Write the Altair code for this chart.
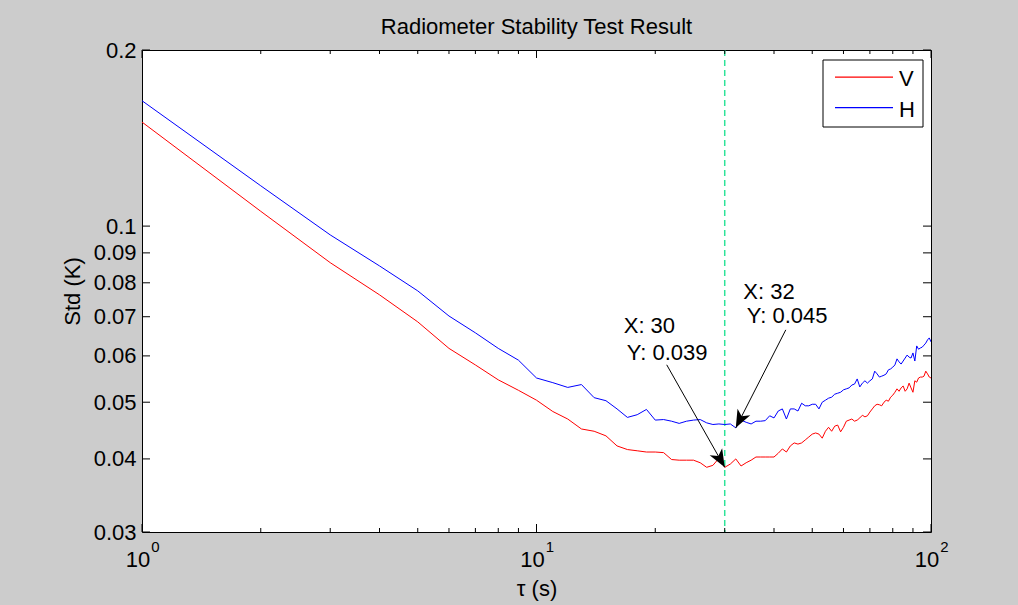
import math

import altair as alt
import pandas as pd

# Averaging time tau (s)
tau = list(range(1, 101))

# Allan-type standard deviation (K) of the V channel, one value per tau
std_v = [
    0.1506, 0.1060, 0.0866, 0.0763, 0.0686, 0.0618, 0.0579, 0.0546, 0.0524, 0.0504,
    0.0482, 0.0468, 0.0450, 0.0446, 0.0438, 0.0421, 0.0415, 0.0413, 0.0411, 0.0411,
    0.0410, 0.0399, 0.0398, 0.0398, 0.0398, 0.0394, 0.0387, 0.0390, 0.0401, 0.0387,
    0.0392, 0.0400, 0.0389, 0.0394, 0.0398, 0.0403, 0.0403, 0.0403, 0.0403, 0.0403,
    0.0409, 0.0416, 0.0411, 0.0421, 0.0426, 0.0424, 0.0426, 0.0431, 0.0436, 0.0441,
    0.0443, 0.0441, 0.0434, 0.0446, 0.0453, 0.0446, 0.0455, 0.0457, 0.0445, 0.0453,
    0.0464, 0.0466, 0.0468, 0.0464, 0.0466, 0.0470, 0.0475, 0.0472, 0.0474, 0.0481,
    0.0487, 0.0493, 0.0496, 0.0495, 0.0493, 0.0500, 0.0504, 0.0502, 0.0510, 0.0514,
    0.0520, 0.0527, 0.0522, 0.0529, 0.0533, 0.0522, 0.0527, 0.0539, 0.0529, 0.0520,
    0.0544, 0.0541, 0.0550, 0.0552, 0.0552, 0.0554, 0.0565, 0.0559, 0.0552, 0.0550,
]

# Same quantity for the H channel
std_h = [
    0.1638, 0.1172, 0.0966, 0.0855, 0.0775, 0.0702, 0.0657, 0.0618, 0.0590, 0.0550,
    0.0540, 0.0530, 0.0536, 0.0509, 0.0503, 0.0487, 0.0471, 0.0476, 0.0486, 0.0466,
    0.0467, 0.0464, 0.0460, 0.0464, 0.0466, 0.0467, 0.0461, 0.0458, 0.0459, 0.0458,
    0.0459, 0.0452, 0.0466, 0.0462, 0.0459, 0.0464, 0.0464, 0.0465, 0.0474, 0.0470,
    0.0483, 0.0487, 0.0468, 0.0487, 0.0487, 0.0483, 0.0498, 0.0493, 0.0493, 0.0496,
    0.0496, 0.0487, 0.0500, 0.0504, 0.0508, 0.0510, 0.0516, 0.0518, 0.0520, 0.0525,
    0.0527, 0.0529, 0.0535, 0.0537, 0.0548, 0.0531, 0.0539, 0.0544, 0.0539, 0.0544,
    0.0548, 0.0565, 0.0559, 0.0552, 0.0554, 0.0556, 0.0559, 0.0568, 0.0570, 0.0574,
    0.0579, 0.0593, 0.0586, 0.0581, 0.0588, 0.0595, 0.0602, 0.0597, 0.0595, 0.0607,
    0.0588, 0.0624, 0.0616, 0.0619, 0.0621, 0.0626, 0.0631, 0.0639, 0.0644, 0.0634,
]

series_names = ["V", "H"]
series_colors = ["#ff0000", "#0000ff"]

y_tick_values = [0.03, 0.04, 0.05, 0.06, 0.07, 0.08, 0.09, 0.1, 0.2]
x_major_ticks = [1, 10, 100]
x_minor_ticks = [2, 3, 4, 5, 6, 7, 8, 9, 20, 30, 40, 50, 60, 70, 80, 90]

# Vertical marker at the chosen averaging time
marker_tau = [30]

# Data tips: which series and which tau they point at
tip_series = ["V", "H"]
tip_tau = [30, 32]

chart_title = "Radiometer Stability Test Result"

# ---- layout / style ----
FONT = "Liberation Sans"
FS = 22
W, H = 789, 482
MAJOR_LEN, MINOR_LEN = 8, 4

# legend box (plot-area pixels): left, top, width, height, first row, row pitch,
# sample line span and label position
LEG = {"x": 681, "y": 10, "w": 100, "h": 67, "row0": 17.2, "pitch": 30.4,
       "line": (693, 751), "label_x": 757}

# pixel offsets of each data tip (arrow tail, text lines) relative to its point
tip_style = [
    {"tail": (-58, -102.5), "x_line": (-101, -134.5), "y_line": (-98, -107.5)},
    {"tail": (50, -98), "x_line": (7.5, -129), "y_line": (11, -104.7)},
]

x_scale = alt.Scale(type="log", domain=[1, 100], nice=False)
y_scale = alt.Scale(type="log", domain=[0.03, 0.2], nice=False)

# One axis definition per direction, shared by every layer so they merge cleanly
x_axis = alt.Axis(
    labels=False, ticks=False, tickSize=0, domain=False, grid=False,
    title="τ (s)", titleX=W / 2, titleY=63, titleAlign="center",
    titleBaseline="alphabetic", titleFont=FONT, titleFontSize=FS,
    titleFontWeight="normal", titleColor="black",
)
y_axis = alt.Axis(
    values=y_tick_values, format=".2~f", labelFont=FONT,
    labelFontSize=FS, labelColor="black", labelPadding=6,
    labelOverlap=False, ticks=False, tickSize=0, domain=False,
    grid=False, title="Std (K)", titleX=-70, titleY=H / 2,
    titleAngle=270, titleAlign="center", titleBaseline="middle",
    titleFont=FONT, titleFontSize=FS, titleFontWeight="normal",
    titleColor="black",
)

df = pd.DataFrame(
    {
        "tau": tau * 2,
        "std": std_v + std_h,
        "series": ["V"] * len(tau) + ["H"] * len(tau),
    }
)
series_values = {"V": std_v, "H": std_h}


def xq(field):
    return alt.X(field, type="quantitative", scale=x_scale, axis=x_axis)


def yq(field):
    return alt.Y(field, type="quantitative", scale=y_scale, axis=y_axis)


lines = (
    alt.Chart(df)
    .mark_line(strokeWidth=1, clip=True)
    .encode(
        x=xq("tau"),
        y=yq("std"),
        color=alt.Color(
            "series:N",
            scale=alt.Scale(domain=series_names, range=series_colors),
            sort=series_names,
            legend=None,
        ),
    )
)

# Inward tick marks on all four sides (box on)
ydf = pd.DataFrame({"v": y_tick_values})
y_ticks_left = alt.Chart(ydf).mark_rule(color="black", strokeWidth=1).encode(
    y=yq("v"), x=alt.value(0), x2=alt.value(MAJOR_LEN)
)
y_ticks_right = alt.Chart(ydf).mark_rule(color="black", strokeWidth=1).encode(
    y=yq("v"), x=alt.value(W - MAJOR_LEN), x2=alt.value(W)
)

xmaj = pd.DataFrame({"v": x_major_ticks})
xmin = pd.DataFrame({"v": x_minor_ticks})
x_tick_layers = []
for data, length in ((xmaj, MAJOR_LEN), (xmin, MINOR_LEN)):
    x_tick_layers.append(
        alt.Chart(data).mark_rule(color="black", strokeWidth=1).encode(
            x=xq("v"), y=alt.value(H), y2=alt.value(H - length)
        )
    )
    x_tick_layers.append(
        alt.Chart(data).mark_rule(color="black", strokeWidth=1).encode(
            x=xq("v"), y=alt.value(0), y2=alt.value(length)
        )
    )

# Decade labels written as 10 with a raised exponent
dec_df = pd.DataFrame(
    {
        "v": x_major_ticks,
        "base": ["10"] * len(x_major_ticks),
        "exp": [str(int(round(math.log10(v)))) for v in x_major_ticks],
    }
)
dec_base = alt.Chart(dec_df).mark_text(
    font=FONT, fontSize=FS, color="black", align="center",
    baseline="alphabetic", dx=-4,
).encode(x=xq("v"), y=alt.value(H + 35), text="base:N")
dec_exp = alt.Chart(dec_df).mark_text(
    font=FONT, fontSize=15, color="black", align="center",
    baseline="alphabetic", dx=13.5,
).encode(x=xq("v"), y=alt.value(H + 19.5), text="exp:N")

marker = alt.Chart(pd.DataFrame({"v": marker_tau})).mark_rule(
    color="#2fe39a", strokeWidth=1.5, strokeDash=[6, 4]
).encode(x=xq("v"))

# Data tips: arrow, arrowhead and two text lines
ARROW_HEAD = "M0,0 L0.8,2 L0,1.45 L-0.8,2 Z"
tip_layers = []
for name, t, style in zip(tip_series, tip_tau, tip_style):
    val = series_values[name][tau.index(t)]
    tdf = pd.DataFrame(
        {
            "tau": [t],
            "std": [val],
            "xl": [f"X: {t}"],
            "yl": [f"Y: {round(val, 3):g}"],
        }
    )
    ox, oy = style["tail"]
    ang = math.degrees(math.atan2(-ox, oy)) % 360
    base = alt.Chart(tdf)
    tip_layers.append(
        base.mark_rule(color="black", strokeWidth=1, x2Offset=ox, y2Offset=oy).encode(
            x=xq("tau"), y=yq("std"),
            x2=alt.X2("tau"), y2=alt.Y2("std"),
        )
    )
    tip_layers.append(
        base.mark_point(
            shape=ARROW_HEAD, size=320, filled=True, color="black",
            opacity=1, angle=ang, strokeWidth=0,
        ).encode(x=xq("tau"), y=yq("std"))
    )
    for key, field in (("x_line", "xl"), ("y_line", "yl")):
        dx, dy = style[key]
        tip_layers.append(
            base.mark_text(
                font=FONT, fontSize=FS, color="black", align="left",
                baseline="alphabetic", dx=dx, dy=dy,
            ).encode(x=xq("tau"), y=yq("std"), text=f"{field}:N")
        )

# Legend: framed box with a line sample and label per series
legend_layers = [
    alt.Chart(pd.DataFrame({"k": [0]})).mark_rect(
        fill="white", stroke="black", strokeWidth=1
    ).encode(
        x=alt.value(LEG["x"]), x2=alt.value(LEG["x"] + LEG["w"]),
        y=alt.value(LEG["y"]), y2=alt.value(LEG["y"] + LEG["h"]),
    )
]
for i, (name, col) in enumerate(zip(series_names, series_colors)):
    row_y = LEG["y"] + LEG["row0"] + LEG["pitch"] * i
    row = alt.Chart(pd.DataFrame({"series": [name]}))
    legend_layers.append(
        row.mark_rule(color=col, strokeWidth=1.2).encode(
            x=alt.value(LEG["line"][0]), x2=alt.value(LEG["line"][1]),
            y=alt.value(row_y),
        )
    )
    legend_layers.append(
        row.mark_text(
            font=FONT, fontSize=FS, color="black", align="left", baseline="middle"
        ).encode(x=alt.value(LEG["label_x"]), y=alt.value(row_y + 2), text="series:N")
    )

title_layer = alt.Chart(pd.DataFrame({"t": [chart_title]})).mark_text(
    font=FONT, fontSize=FS, color="black", align="center", baseline="alphabetic"
).encode(x=alt.value(W / 2), y=alt.value(-16), text="t:N")

chart = (
    alt.layer(
        marker, lines, y_ticks_left, y_ticks_right, *x_tick_layers,
        dec_base, dec_exp, *tip_layers, *legend_layers, title_layer,
    )
    .properties(
        width=W,
        height=H,
        background="#cccccc",
        padding={"left": 142, "top": 50, "right": 87, "bottom": 73},
        autosize=alt.AutoSizeParams(type="none"),
    )
    .configure_view(fill="white", stroke="black", strokeWidth=1)
)

chart.save("out.html", embed_options={"renderer": "svg", "actions": False})
